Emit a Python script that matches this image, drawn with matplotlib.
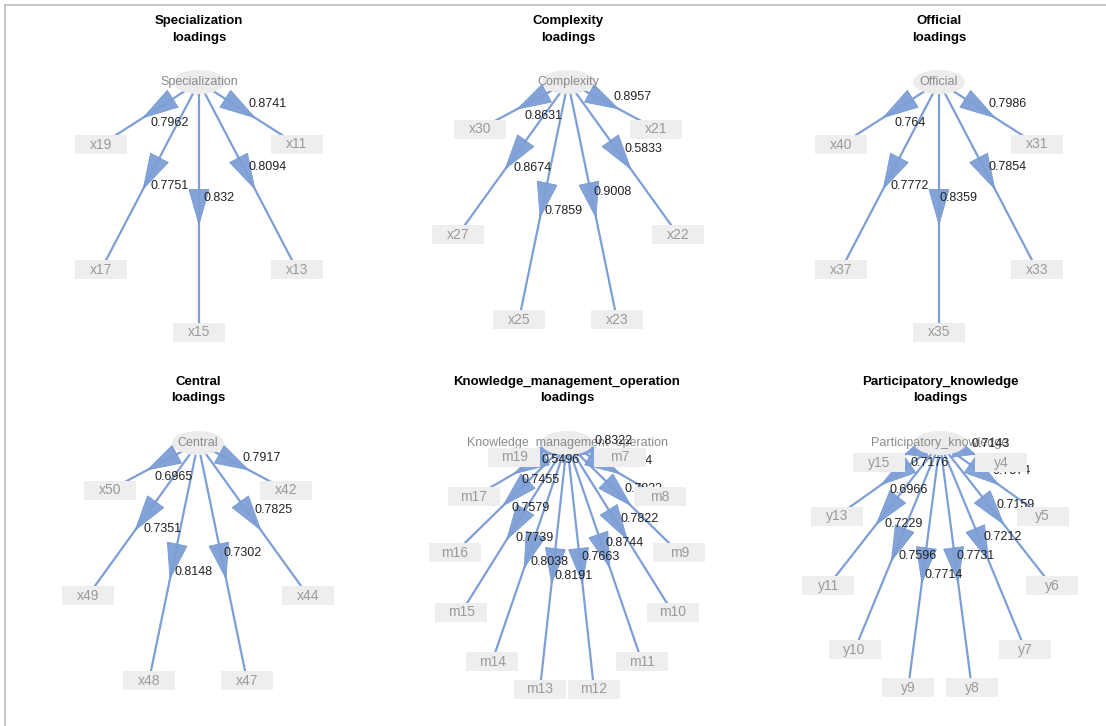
import numpy as np
import matplotlib.pyplot as plt
from matplotlib.patches import Ellipse, Rectangle, Polygon

W, H = 1106, 726

# indicators listed clockwise from the latent node at the top
spec_items = ['x11', 'x13', 'x15', 'x17', 'x19']
spec_loads = [0.8741, 0.8094, 0.832, 0.7751, 0.7962]

comp_items = ['x21', 'x22', 'x23', 'x25', 'x27', 'x30']
comp_loads = [0.8957, 0.5833, 0.9008, 0.7859, 0.8674, 0.8631]

offi_items = ['x31', 'x33', 'x35', 'x37', 'x40']
offi_loads = [0.7986, 0.7854, 0.8359, 0.7772, 0.764]

cent_items = ['x42', 'x44', 'x47', 'x48', 'x49', 'x50']
cent_loads = [0.7917, 0.7825, 0.7302, 0.8148, 0.7351, 0.6965]

kmo_items = ['m7', 'm8', 'm9', 'm10', 'm11', 'm12', 'm13', 'm14', 'm15', 'm16', 'm17', 'm19']
kmo_loads = [0.8322, 0.7654, 0.7833, 0.7822, 0.8744, 0.7663, 0.8191, 0.8038, 0.7739, 0.7579, 0.7455, 0.5496]

part_items = ['y4', 'y5', 'y6', 'y7', 'y8', 'y9', 'y10', 'y11', 'y13', 'y15']
part_loads = [0.7143, 0.7574, 0.7159, 0.7212, 0.7731, 0.7714, 0.7596, 0.7229, 0.6966, 0.7176]

panels = [
    ('Specialization', spec_items, spec_loads, 199, 82),
    ('Complexity', comp_items, comp_loads, 568, 82),
    ('Official', offi_items, offi_loads, 939, 82),
    ('Central', cent_items, cent_loads, 198, 443),
    ('Knowledge_management_operation', kmo_items, kmo_loads, 567, 443),
    ('Participatory_knowledge', part_items, part_loads, 940, 443),
]

RX, RY = 113, 125
EDGE = '#7d9fd6'
BOX = '#eeeeee'

plt.rcParams['font.family'] = ['Liberation Sans', 'DejaVu Sans']


def draw_panel(ax, name, items, loads, cx, top):
    n = len(items) + 1
    step = 2 * np.pi / n
    cy = top + RY
    ang = np.pi / 2 - step * np.arange(1, n)
    xs = cx + RX * np.cos(ang)
    ys = cy - RY * np.sin(ang)

    ax.text(cx, top - 67, name + '\nloadings', ha='center', va='top',
            fontsize=9.5, fontweight='bold', linespacing=1.5,
            family=['Liberation Sans Narrow', 'Liberation Sans', 'DejaVu Sans'])

    src = np.array([cx, top])
    for x, y, item, val in zip(xs, ys, items, loads):
        ax.plot([cx, x], [top, y], color=EDGE, lw=1.6, zorder=1,
                solid_capstyle='butt')
        d = np.array([x, y]) - src
        L = np.hypot(*d)
        u = d / L
        perp = np.array([-u[1], u[0]])
        alen = min(35, 0.33 * L)
        tip = src + u * 0.57 * L
        base = tip - u * alen
        head = Polygon([tip, base + perp * 10, base - perp * 10], closed=True,
                       fc=EDGE, ec='#7398d2', lw=0.6, alpha=0.95, zorder=2)
        ax.add_patch(head)
        # value sits beside the middle of the edge
        mid = src + d * 0.5
        dy = 10 if u[0] < -0.05 else -9
        ax.text(mid[0] + 20, mid[1] + dy, f'{val:g}', ha='center',
                va='center', fontsize=9, color='#222222', zorder=4)
        ax.add_patch(Rectangle((x - 26, y - 9.5), 52, 19, fc=BOX, ec='none',
                               zorder=5))
        ax.text(x, y, item, ha='center', va='center', fontsize=10,
                color='#9a9a9a', zorder=6)

    ax.add_patch(Ellipse((cx, top), 52, 24, fc='#ececec', ec='none', zorder=3))
    ax.text(cx, top, name, ha='center', va='center', fontsize=9,
            color='#8a8a8a', zorder=3.5)


fig = plt.figure(figsize=(W / 100, H / 100), dpi=100)
ax = fig.add_axes([0, 0, 1, 1])
ax.set_xlim(0, W)
ax.set_ylim(H, 0)
ax.axis('off')

# frame along the top and left edges
ax.plot([5, W], [5, 5], color='#bdbdbd', lw=1.2)
ax.plot([5, 5], [5, H], color='#bdbdbd', lw=1.2)

for name, items, loads, cx, top in panels:
    draw_panel(ax, name, items, loads, cx, top)

fig.savefig('out.png', dpi=100)
